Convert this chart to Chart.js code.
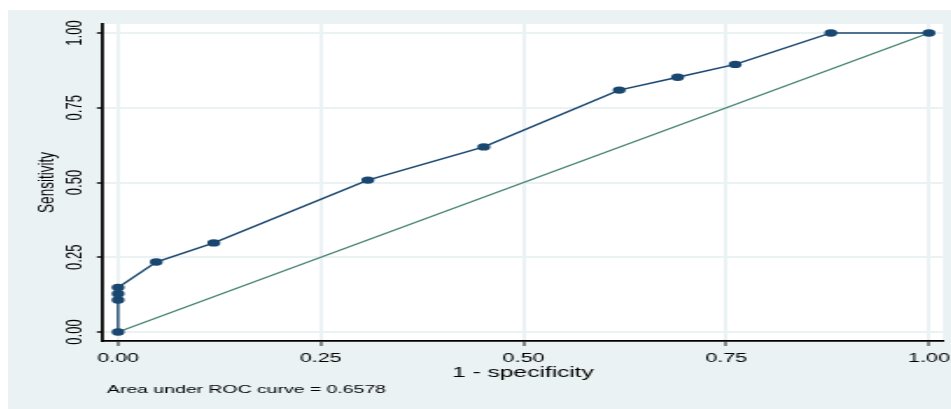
<!DOCTYPE html>
<html>
<head>
<meta charset="utf-8">
<script src="https://cdn.jsdelivr.net/npm/chart.js@4.4.1/dist/chart.umd.min.js"></script>
<style>
  html, body { margin: 0; padding: 0; background: #ffffff; }
  body { width: 951px; height: 409px; position: relative; overflow: hidden; }
  /* Stata-style graph region, drawn narrow and stretched horizontally */
  #wrap {
    position: absolute; left: 8px; top: 10px;
    width: 539px; height: 399px;
    transform: scaleX(1.75); transform-origin: 0 0;
  }
</style>
</head>
<body>
<div id="wrap"><canvas id="roc"></canvas></div>
<script>
// ROC curve: 1 - specificity (x) against sensitivity (y)
const oneMinusSpec = [0, 0, 0, 0, 0.047, 0.118, 0.308, 0.451, 0.618, 0.690, 0.761, 0.879, 1];
const sensitivity  = [0, 0.107, 0.128, 0.149, 0.234, 0.298, 0.508, 0.619, 0.809, 0.852, 0.895, 1, 1];
// reference (chance) line
const refX = [0, 1];
const refY = [0, 1];
// axis ticks
const tickValues = [0, 0.25, 0.5, 0.75, 1];
const tickLabels = ['0.00', '0.25', '0.50', '0.75', '1.00'];
const xTitle = '1 - specificity';
const yTitle = 'Sensitivity';
const aucNote = 'Area under ROC curve = 0.6578';

const PANEL = '#eaf2f3';
const NAVY = '#1a476f';
const GREEN = '#3a7d69';
const FONT = '"Liberation Sans", Arial, Helvetica, sans-serif';

const rocPoints = oneMinusSpec.map((x, i) => ({ x, y: sensitivity[i] }));
const refPoints = refX.map((x, i) => ({ x, y: refY[i] }));

function fixedTicks(scale) {
  scale.ticks = tickValues.map(v => ({ value: v }));
}

const backgroundPlugin = {
  id: 'panelBackground',
  beforeDraw(chart) {
    const { ctx, width, height, chartArea: a } = chart;
    ctx.save();
    ctx.fillStyle = PANEL;
    ctx.fillRect(0, 0, width, height);
    ctx.fillStyle = '#ffffff';
    ctx.fillRect(a.left, a.top, a.right - a.left, a.bottom - a.top);
    ctx.restore();
  }
};

const labelPlugin = {
  id: 'axisText',
  afterDraw(chart) {
    const { ctx, chartArea: a } = chart;
    const xs = chart.scales.x, ys = chart.scales.y;
    ctx.save();
    ctx.fillStyle = '#000000';

    // x tick labels
    ctx.font = '12.3px ' + FONT;
    ctx.textAlign = 'center';
    ctx.textBaseline = 'alphabetic';
    tickValues.forEach((v, i) => {
      ctx.fillText(tickLabels[i], xs.getPixelForValue(v), a.bottom + 21);
    });

    // y tick labels, reading bottom to top
    ctx.font = '13px ' + FONT;
    tickValues.forEach((v, i) => {
      ctx.save();
      ctx.translate(a.left - 12.3, ys.getPixelForValue(v));
      ctx.rotate(-Math.PI / 2);
      ctx.textAlign = 'center';
      ctx.textBaseline = 'alphabetic';
      ctx.fillText(tickLabels[i], 0, 0);
      ctx.restore();
    });

    // x axis title
    ctx.font = '14px ' + FONT;
    ctx.textAlign = 'center';
    ctx.fillText(xTitle, (a.left + a.right) / 2, a.bottom + 36);

    // y axis title
    ctx.save();
    ctx.font = '13.5px ' + FONT;
    ctx.translate(a.left - 28, (a.top + a.bottom) / 2);
    ctx.rotate(-Math.PI / 2);
    ctx.textAlign = 'center';
    ctx.fillText(yTitle, 0, 0);
    ctx.restore();

    // note below the plot
    ctx.font = '11.1px ' + FONT;
    ctx.textAlign = 'left';
    ctx.fillText(aucNote, a.left + 2.3, a.bottom + 52);

    ctx.restore();
  }
};

new Chart(document.getElementById('roc'), {
  type: 'line',
  data: {
    datasets: [
      {
        label: 'ROC',
        data: rocPoints,
        borderColor: NAVY,
        borderWidth: 1.4,
        pointRadius: 3.7,
        pointHoverRadius: 3.7,
        pointBackgroundColor: NAVY,
        pointBorderWidth: 0,
        tension: 0,
        fill: false
      },
      {
        label: 'Reference',
        data: refPoints,
        borderColor: GREEN,
        borderWidth: 1.1,
        pointRadius: 0,
        tension: 0,
        fill: false
      }
    ]
  },
  options: {
    responsive: true,
    maintainAspectRatio: false,
    animation: false,
    events: [],
    layout: { padding: { top: 14, right: 4.7, bottom: 0, left: 0 } },
    plugins: {
      legend: { display: false },
      tooltip: { enabled: false },
      title: { display: false }
    },
    scales: {
      x: {
        type: 'linear',
        min: -0.01855,
        max: 1.0173,
        afterBuildTicks: fixedTicks,
        afterFit(scale) { scale.height = 68; },
        ticks: { display: false },
        grid: {
          color: PANEL,
          lineWidth: 2,
          drawTicks: true,
          tickLength: 5,
          tickColor: '#000000',
          tickWidth: 0.9
        },
        border: { display: true, color: '#000000', width: 1.8 }
      },
      y: {
        type: 'linear',
        min: -0.0301,
        max: 1.0301,
        afterBuildTicks: fixedTicks,
        afterFit(scale) { scale.width = 54.3; },
        ticks: { display: false },
        grid: {
          color: PANEL,
          lineWidth: 2,
          drawTicks: true,
          tickLength: 3.5,
          tickColor: '#000000',
          tickWidth: 1.4
        },
        border: { display: true, color: '#000000', width: 1.8 }
      }
    }
  },
  plugins: [backgroundPlugin, labelPlugin]
});
</script>
</body>
</html>
